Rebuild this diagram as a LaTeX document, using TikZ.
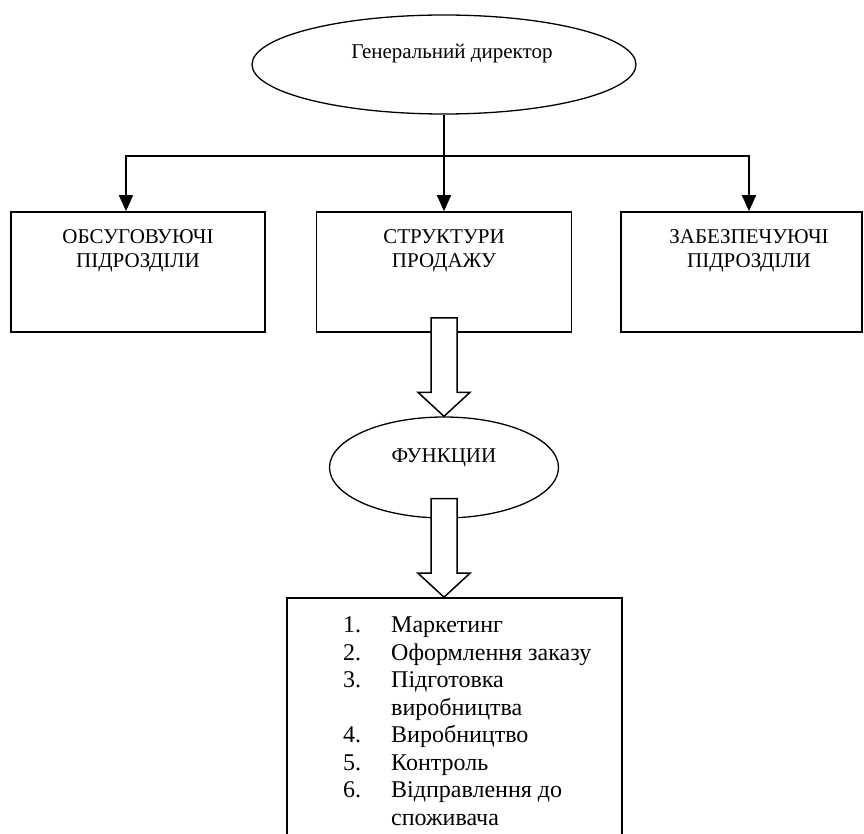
\documentclass[tikz,border=0pt]{standalone}
\usepackage{fontspec}
\setmainfont{Liberation Serif}
\usetikzlibrary{positioning, arrows.meta, shapes.geometric, calc}
\tikzstyle{unit} = [draw=black, rectangle, line width=1.6pt, minimum width=254pt, minimum height=120pt, inner sep=0pt]
\tikzstyle{oval} = [draw=black, ellipse, line width=1.3pt, inner sep=0pt]
\tikzstyle{caption} = [font=\fontsize{21}{24}\selectfont, align=center, anchor=north, inner sep=0pt]
\tikzstyle{myarrow} = [-{Triangle[width=14pt,length=16pt]}, line width=1.6pt, line join=miter]
\tikzstyle{fatarrow} = [draw=black, fill=white, line width=1.5pt, line join=miter]
\newcommand{\funcitem}[2]{\makebox[48pt][l]{#1}#2}

\begin{document}
\begin{tikzpicture}[x=1pt, y=-1pt, >=Stealth]
	\useasboundingbox (0,0) rectangle (864,834);
	
	% director
	\node[oval, minimum width=384pt, minimum height=99pt] (director) at (444,64.5) {};
	\node[caption, anchor=base] (directortext) at (452,59) {Генеральний директор};
	
	% units
	\node[unit] (service) at (138,272) {};
	\node[unit, minimum width=255pt] (sales) at (444,272) {};
	\node[unit, minimum width=241pt] (support) at (741.5,272) {};
	\node[caption] (servicetext) at (138,229) {ОБСУГОВУЮЧІ\\ПІДРОЗДІЛИ};
	\node[caption] (salestext) at (444,229) {СТРУКТУРИ\\ПРОДАЖУ};
	\node[caption] (supporttext) at (749,229) {ЗАБЕЗПЕЧУЮЧІ\\ПІДРОЗДІЛИ};
	
	% branches
	\coordinate (split) at (444,156);
	\coordinate (left) at (126,156);
	\coordinate (right) at (749,156);
	\draw[myarrow] (director.south) -- (sales.north);
	\draw[myarrow] (split) -| (left |- service.north);
	\draw[myarrow] (split) -| (right |- support.north);
	
	% functions
	\node[oval, minimum width=229pt, minimum height=101pt] (functions) at (444,467.5) {};
	\node[caption, anchor=base] (functionstext) at (444,462) {ФУНКЦИИ};
	
	% list of tasks
	\node[unit, minimum width=335pt, minimum height=242pt] (tasks) at (454.5,719) {};
	\coordinate (taskstop) at (functions.south |- tasks.north);
	\node[caption, anchor=north west, align=left, font=\fontsize{24}{27.5}\selectfont] (taskstext) at (343,616.8) {%
		\funcitem{1.}{Маркетинг}\\
		\funcitem{2.}{Оформлення заказу}\\
		\funcitem{3.}{Підготовка}\\
		\funcitem{}{виробництва}\\
		\funcitem{4.}{Виробництво}\\
		\funcitem{5.}{Контроль}\\
		\funcitem{6.}{Відправлення до}\\
		\funcitem{}{споживача}};
	
	% block arrows
	\draw[fatarrow] ($(sales.south)+(-13,-15)$) -- ($(sales.south)+(13,-15)$) -- ($(functions.north)+(13,-24)$) -- ($(functions.north)+(26,-24)$) -- (functions.north) -- ($(functions.north)+(-26,-24)$) -- ($(functions.north)+(-13,-24)$) -- cycle;
	\draw[fatarrow] ($(functions.south)+(-13,-20)$) -- ($(functions.south)+(13,-20)$) -- ($(taskstop)+(13,-24)$) -- ($(taskstop)+(26,-24)$) -- (taskstop) -- ($(taskstop)+(-26,-24)$) -- ($(taskstop)+(-13,-24)$) -- cycle;
	
\end{tikzpicture}
\end{document}
